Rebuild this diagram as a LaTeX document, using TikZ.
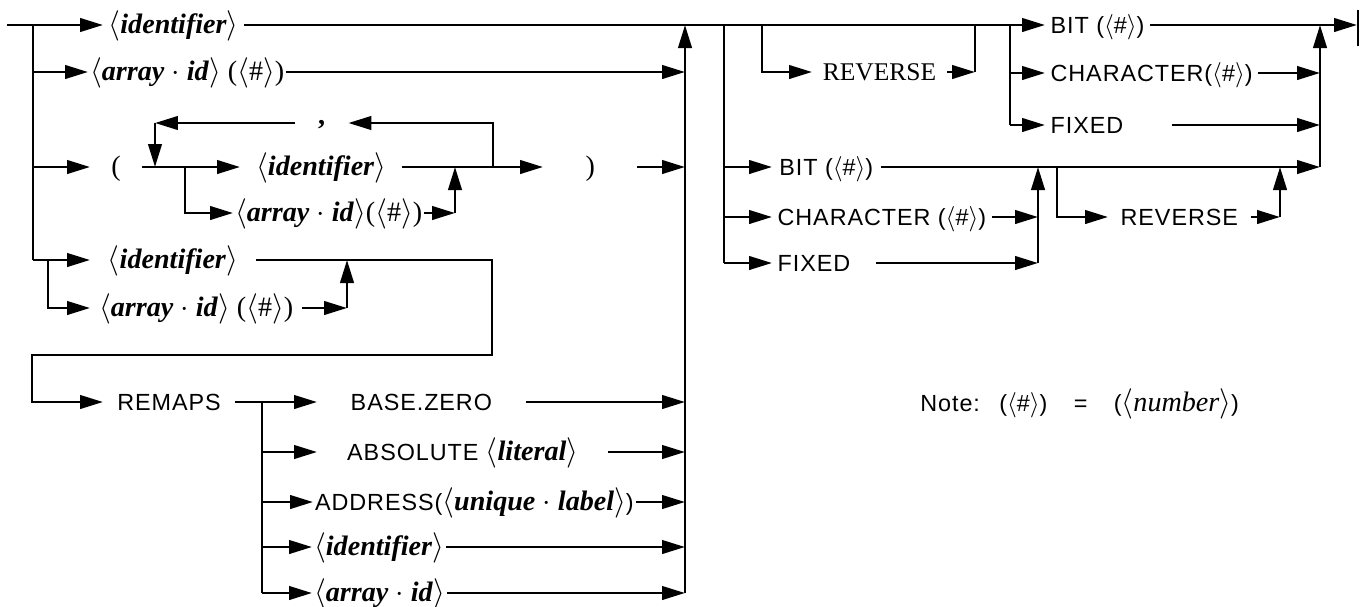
\documentclass[tikz,border=0pt]{standalone}
\usepackage{fontspec}
\newfontfamily\sansfont[LetterSpace=4]{Liberation Sans}
\newfontfamily\seriffont{Liberation Serif}
\usetikzlibrary{arrows.meta,positioning}

% nonterminals and the number argument
\newcommand{\nt}[1]{$\langle$\textbf{\textit{#1}}$\rangle$}
\newcommand{\nts}[1]{{\seriffont\fontsize{16}{18}\selectfont\nt{#1}}}
\newcommand{\numarg}{(\ensuremath{\langle}\#\ensuremath{\rangle})}

\tikzset{
  conn/.style={line width=1.5pt},
  arr/.style={conn,-{Triangle[length=0.46cm,width=0.27cm]}},
  lbl/.style={anchor=west,inner ysep=0pt,inner xsep=3pt,text height=9.5pt,text depth=0pt,
    font=\sansfont\fontsize{13.3}{15}\selectfont},
  nlbl/.style={lbl,font=\seriffont\fontsize{16}{18}\selectfont},
  rlbl/.style={lbl,font=\seriffont\fontsize{14.5}{17}\selectfont},
}

\begin{document}
\begin{tikzpicture}[x=0.02cm,y=-0.02cm]
\useasboundingbox (0,0) rectangle (1362,606);

%--- left: the operand ---
\coordinate (start) at (7,25);
\coordinate (t1) at (33,25);
\coordinate (t2) at (33,72);
\coordinate (t3) at (33,167);
\coordinate (t4) at (33,260);
\node[nlbl] (id1) at (103,25) {\nt{identifier}};
\node[nlbl,inner xsep=1pt] (arr1) at (88,72) {\nt{array $\cdot$ id} \numarg};
\draw[arr] (start) -- (id1.west);
\draw[conn] (t1) -- (t4);
\draw[arr] (t2) -- (arr1.west);

% collector of the left part
\coordinate (cl0) at (685,25);
\coordinate (cl1) at (685,72);
\coordinate (cl2) at (685,167);
\coordinate (cl3) at (685,402);
\coordinate (cl4) at (685,452);
\coordinate (cl5) at (685,502);
\coordinate (cl6) at (685,547);
\coordinate (cl7) at (685,593);
\draw[arr] (cl7) -- (cl0);
\draw[arr] (arr1.east) -- (cl1);

% list in parentheses
\node[nlbl,inner xsep=12pt] (lp) at (90,167) {(};
\coordinate (lpa) at (155,167);
\coordinate (br1) at (185,167);
\node[nlbl,inner xsep=9pt] (id2) at (240,167) {\nt{identifier}};
\coordinate (mg1) at (455,167);
\coordinate (lpb) at (493,167);
\node[nlbl,inner xsep=24pt] (rp) at (543,167) {)};
\draw[arr] (t3) -- (lp.west);
\draw[conn] (lp.east) -- (br1);
\draw[arr] (br1) -- (id2.west);
\draw[conn] (id2.east) -- (lpb);
\draw[arr] (lpb) -- (rp.west);
\draw[arr] (rp.east) -- (cl2);
% comma loop
\coordinate (lpc) at (493,123);
\coordinate (lpd) at (155,123);
\node[nlbl,inner xsep=13pt,text height=2pt] (cm) at (295,123) {\textbf{,}};
\draw[arr] (lpb) -- (lpc) -- (cm.east);
\draw[arr] (cm.west) -- (lpd);
\draw[arr] (lpd) -- (lpa);
% array element in the list
\coordinate (br1b) at (185,213);
\coordinate (mg1b) at (455,213);
\node[nlbl,inner xsep=1pt] (arr2) at (233,213) {\nt{array $\cdot$ id}\numarg};
\draw[arr] (br1) -- (br1b) -- (arr2.west);
\draw[arr] (arr2.east) -- (mg1b);
\draw[arr] (mg1b) -- (mg1);

% operand then REMAPS
\node[nlbl,inner xsep=10pt] (id3) at (90,260) {\nt{identifier}};
\coordinate (br2) at (48,260);
\coordinate (br2b) at (48,308);
\node[nlbl,inner xsep=5pt] (arr3) at (90,308) {\nt{array $\cdot$ id} \numarg};
\coordinate (mg2) at (347,260);
\coordinate (mg2b) at (347,308);
\draw[arr] (t4) -- (id3.west);
\draw[arr] (br2) -- (br2b) -- (arr3.west);
\draw[arr] (arr3.east) -- (mg2b);
\draw[arr] (mg2b) -- (mg2);
\coordinate (bk1) at (492,260);
\coordinate (bk2) at (492,355);
\coordinate (bk3) at (32,355);
\coordinate (bk4) at (32,402);
\node[lbl,inner xsep=8pt] (rem) at (103,402) {REMAPS};
\draw[arr] (id3.east) -- (bk1) -- (bk2) -- (bk3) -- (bk4) -- (rem.west);

% REMAPS choices
\coordinate (br3) at (262,402);
\coordinate (br3b) at (262,452);
\coordinate (br3c) at (262,502);
\coordinate (br3d) at (262,547);
\coordinate (br3e) at (262,593);
\draw[conn] (rem.east) -- (br3) -- (br3e);
\node[lbl,inner xsep=19pt] (bz) at (317,402) {BASE.ZERO};
\node[lbl,inner xsep=17pt] (abs) at (317,452) {ABSOLUTE \nts{literal}};
\node[lbl,inner xsep=1pt] (adr) at (313,502) {ADDRESS(\nts{unique $\cdot$ label})};
\node[nlbl,inner xsep=1pt] (id4) at (312,547) {\nt{identifier}};
\node[nlbl,inner xsep=1pt] (arr4) at (312,593) {\nt{array $\cdot$ id}};
\foreach \b/\n/\c in {br3/bz/cl3,br3b/abs/cl4,br3c/adr/cl5,br3d/id4/cl6,br3e/arr4/cl7}{
  \draw[arr] (\b) -- (\n.west);
  \draw[arr] (\n.east) -- (\c);
}

%--- right: the type ---
\coordinate (rt0) at (724,25);
\coordinate (rt1) at (724,167);
\coordinate (rt2) at (724,217);
\coordinate (rt3) at (724,263);
\draw[conn] (rt0) -- (rt3);
% optional REVERSE, serif
\coordinate (rv1a) at (762,25);
\coordinate (rv1b) at (762,72);
\coordinate (rv1c) at (975,72);
\coordinate (rv1d) at (975,25);
\node[rlbl,inner xsep=6pt] (rev1) at (812,72) {REVERSE};
\draw[arr] (rv1a) -- (rv1b) -- (rev1.west);
\draw[arr] (rev1.east) -- (rv1c);
\draw[conn] (rv1c) -- (rv1d);
% types after REVERSE
\coordinate (ty0) at (1010,25);
\coordinate (ty1) at (1010,73);
\coordinate (ty2) at (1010,125);
\draw[conn] (ty0) -- (ty2);
\node[lbl] (bit1) at (1045,25) {BIT \numarg};
\node[lbl] (chr1) at (1045,73) {CHARACTER\numarg};
\node[lbl,text width=66pt] (fix1) at (1045,125) {FIXED};
\draw[arr] (id1.east) -- (bit1.west);
\draw[arr] (ty1) -- (chr1.west);
\draw[arr] (ty2) -- (fix1.west);
% end of the rule
\coordinate (fin) at (1357,25);
\coordinate (fint) at (1358,10);
\coordinate (finb) at (1358,46);
\draw[arr] (bit1.east) -- (fin);
\draw[conn] (fint) -- (finb);
\coordinate (cr0) at (1320,25);
\coordinate (cr1) at (1320,73);
\coordinate (cr2) at (1320,125);
\coordinate (cr3) at (1320,167);
\draw[arr] (cr3) -- (cr0);
\draw[arr] (chr1.east) -- (cr1);
\draw[arr] (fix1.east) -- (cr2);

% types then REVERSE, sans
\node[lbl,inner xsep=4pt] (bit2) at (772,167) {BIT \numarg};
\node[lbl] (chr2) at (772,217) {CHARACTER \numarg};
\node[lbl,text width=53pt] (fix2) at (772,263) {FIXED};
\draw[arr] (rt1) -- (bit2.west);
\draw[arr] (rt2) -- (chr2.west);
\draw[arr] (rt3) -- (fix2.west);
\draw[arr] (bit2.east) -- (cr3);
\coordinate (cm0) at (1038,167);
\coordinate (cm1) at (1038,217);
\coordinate (cm2) at (1038,263);
\draw[arr] (chr2.east) -- (cm1);
\draw[arr] (fix2.east) -- (cm2);
\draw[arr] (cm2) -- (cm0);
\coordinate (rv2a) at (1057,167);
\coordinate (rv2b) at (1057,217);
\coordinate (rv2c) at (1280,217);
\coordinate (rv2d) at (1280,167);
\node[lbl,inner xsep=7pt] (rev2) at (1108,217) {REVERSE};
\draw[arr] (rv2a) -- (rv2b) -- (rev2.west);
\draw[arr] (rev2.east) -- (rv2c);
\draw[arr] (rv2c) -- (rv2d);

%--- note ---
\node[lbl,inner xsep=0pt] (note) at (920,403)
  {Note:\hspace{11pt}\numarg\hspace{15pt}=\hspace{15pt}({\seriffont\fontsize{16}{18}\selectfont$\langle$\textit{number}$\rangle$})};
\end{tikzpicture}
\end{document}
